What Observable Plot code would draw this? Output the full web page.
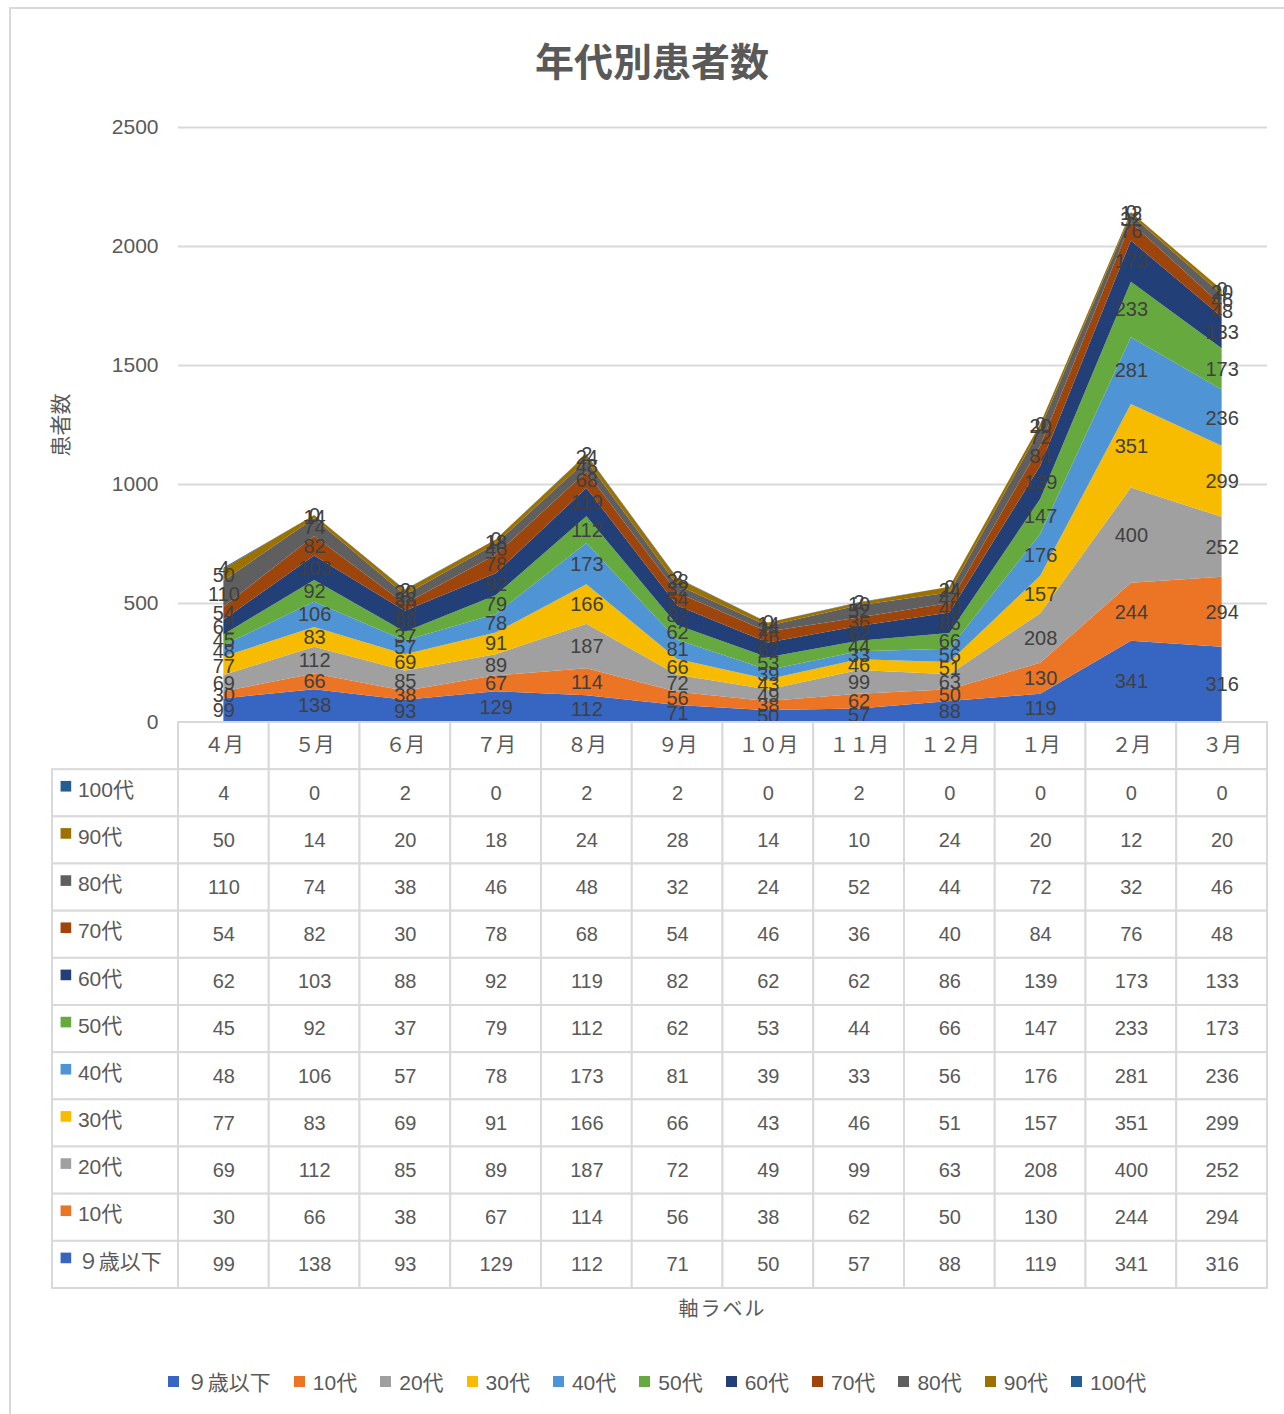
<!DOCTYPE html>
<html>
<head>
<meta charset="utf-8">
<script src="https://cdn.jsdelivr.net/npm/d3@7"></script>
<script src="https://cdn.jsdelivr.net/npm/@observablehq/plot@0.6"></script>
<style>
  html, body { margin: 0; padding: 0; background: #fff; width: 1284px; height: 1414px; overflow: hidden; }
  body { position: relative; font-family: "Liberation Sans", "Noto Sans CJK JP", sans-serif; color: #595959; }
  #frame { position: absolute; left: 9px; top: 7px; width: 1300px; height: 1430px; border: 2px solid #d9d9d9; box-sizing: border-box; }
  #title { position: absolute; left: 0; width: 1304px; top: 34px; text-align: center; font-family: "Noto Sans CJK JP", sans-serif; font-weight: bold; font-size: 39px; color: #595959; line-height: 50px; }
  #chart { position: absolute; left: 0; top: 100px; width: 1284px; }
  #table { position: absolute; left: 0; top: 721px; width: 1284px; }
  #xlabel { position: absolute; left: 178px; width: 1089px; top: 1293px; text-align: center; font-family: "Noto Sans CJK JP", sans-serif; font-size: 20px; color: #595959; letter-spacing: 2px; }
  #legend { position: absolute; left: 0; width: 1314px; top: 1366px; display: flex; justify-content: center; gap: 23px; font-size: 21px; color: #595959; }
  #legend .item { display: flex; align-items: center; gap: 8px; }
  #legend .sw { width: 11px; height: 11px; display: inline-block; }
  svg { overflow: visible; max-width: none !important; }
</style>
</head>
<body>
<div id="frame"></div>
<div id="title">年代別患者数</div>
<div id="chart"></div>
<div id="table"></div>
<div id="xlabel">軸ラベル</div>
<div id="legend"></div>
<script>
// ---- data ----
const months = ["４月","５月","６月","７月","８月","９月","１０月","１１月","１２月","１月","２月","３月"];
const series = ["９歳以下","10代","20代","30代","40代","50代","60代","70代","80代","90代","100代"];
const colors = ["#3766c2","#ec7425","#a0a0a0","#f7bb00","#4f94d4","#66aa3f","#223f78","#9e450c","#5f5f5f","#9c7100","#235d92"];
const under9 = [99,138,93,129,112,71,50,57,88,119,341,316];
const age10 = [30,66,38,67,114,56,38,62,50,130,244,294];
const age20 = [69,112,85,89,187,72,49,99,63,208,400,252];
const age30 = [77,83,69,91,166,66,43,46,51,157,351,299];
const age40 = [48,106,57,78,173,81,39,33,56,176,281,236];
const age50 = [45,92,37,79,112,62,53,44,66,147,233,173];
const age60 = [62,103,88,92,119,82,62,62,86,139,173,133];
const age70 = [54,82,30,78,68,54,46,36,40,84,76,48];
const age80 = [110,74,38,46,48,32,24,52,44,72,32,46];
const age90 = [50,14,20,18,24,28,14,10,24,20,12,20];
const age100 = [4,0,2,0,2,2,0,2,0,0,0,0];
const yTicks = [0,500,1000,1500,2000,2500];

const seriesValues = [under9, age10, age20, age30, age40, age50, age60, age70, age80, age90, age100];
const data = [];
series.forEach((s, si) => months.forEach((m, mi) => data.push({series: s, month: m, value: seriesValues[si][mi]})));

const W = 1284, ML = 178, MR = 17;
const font = '"Liberation Sans", "Noto Sans CJK JP", sans-serif';

// ---- area chart ----
const chart = Plot.plot({
  width: W, height: 623,
  marginLeft: ML, marginRight: MR, marginTop: 27, marginBottom: 1,
  x: {type: "point", domain: months, padding: 0.5, round: false, axis: null},
  y: {domain: [0, 2500]},
  color: {domain: series, range: colors},
  style: {fontFamily: font, fontSize: "21px", color: "#595959", background: "transparent"},
  marks: [
    Plot.ruleY(yTicks.filter(d => d > 0), {stroke: "#d9d9d9", strokeWidth: 2}),
    Plot.areaY(data, {x: "month", y: "value", z: "series", fill: "series"}),
    Plot.text(data, Plot.stackY({x: "month", y: "value", z: "series", text: "value", fill: "#404040", fontSize: 20})),
    Plot.axisY({ticks: yTicks, tickSize: 0, tickPadding: 20, tickFormat: d => String(d), label: "患者数", labelAnchor: "center", labelArrow: "none", labelOffset: 125, fontSize: 21, fill: "#595959"})
  ]
});
document.getElementById("chart").appendChild(chart);

// ---- data table ----
const rows = ["header", ...series.slice().reverse()];
const grid = [];
rows.forEach(r => months.forEach(m => grid.push({row: r, month: m})));
const bw = (W - ML - MR) / months.length;
const labelCol = 126;
const tableRows = series.slice().reverse();

const table = Plot.plot({
  width: W, height: 568,
  marginLeft: ML, marginRight: MR, marginTop: 1, marginBottom: 1,
  x: {type: "band", domain: months, padding: 0, round: false, axis: null},
  y: {type: "band", domain: rows, padding: 0, round: false, axis: null},
  color: {domain: series, range: colors},
  style: {fontFamily: font, fontSize: "20px", color: "#595959", background: "transparent"},
  marks: [
    Plot.cell(grid, {x: "month", y: "row", fill: "white", stroke: "#d9d9d9", strokeWidth: 2}),
    Plot.cell(tableRows, {x: () => months[0], y: d => d, fill: "white", stroke: "#d9d9d9", strokeWidth: 2, insetLeft: -labelCol, insetRight: bw}),
    Plot.text(months, {x: d => d, y: () => "header", text: d => d, fill: "#595959", fontSize: 20, fontFamily: '"Noto Sans CJK JP", sans-serif'}),
    Plot.text(data, {x: "month", y: "series", text: "value", fill: "#595959", fontSize: 20}),
    Plot.dot(tableRows, {x: () => months[0], y: d => d, fill: d => d, symbol: "square", r: 6, dx: -158, dy: -7}),
    Plot.text(tableRows, {x: () => months[0], y: d => d, text: d => d, textAnchor: "start", dx: -146, dy: -3, fill: "#595959", fontSize: 21})
  ]
});
document.getElementById("table").appendChild(table);

// ---- legend ----
const legend = document.getElementById("legend");
series.forEach((s, i) => {
  const it = document.createElement("div");
  it.className = "item";
  const sw = document.createElement("span");
  sw.className = "sw";
  sw.style.background = colors[i];
  const t = document.createElement("span");
  t.textContent = s;
  it.appendChild(sw); it.appendChild(t);
  legend.appendChild(it);
});
</script>
</body>
</html>
